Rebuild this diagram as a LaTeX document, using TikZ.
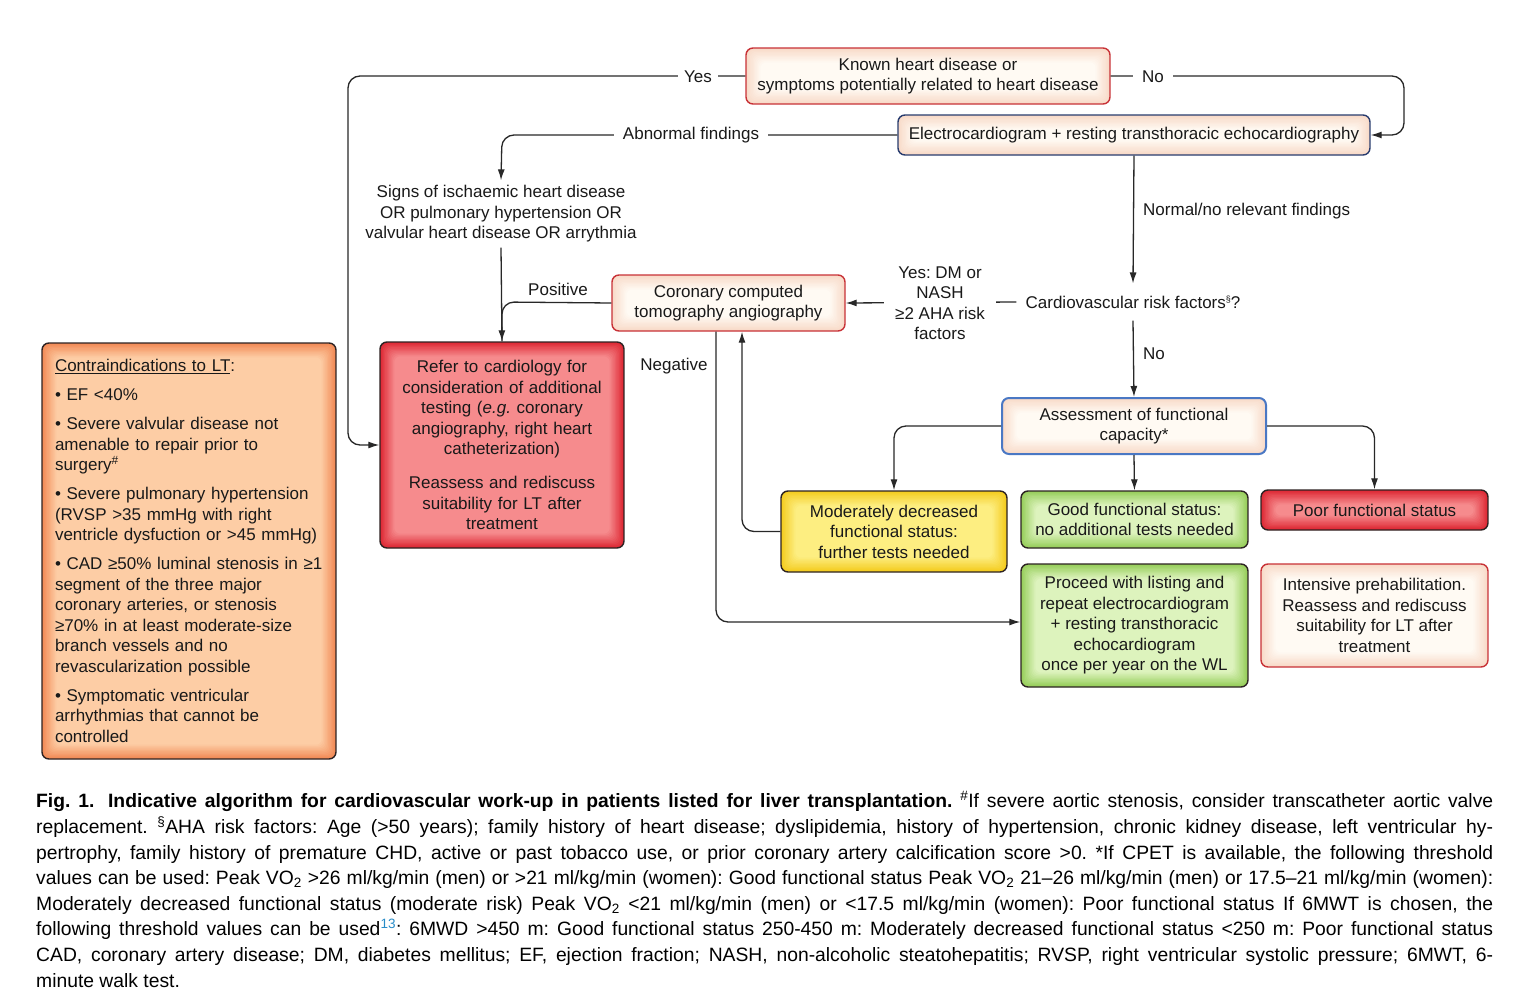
\documentclass[tikz,border=0pt]{standalone}
\usepackage{fontspec}
\setmainfont{Liberation Sans}
\usetikzlibrary{arrows.meta,calc}
\frenchspacing

\definecolor{txt}{RGB}{25,25,25}
\definecolor{ln}{RGB}{40,40,40}
\definecolor{creamin}{RGB}{255,250,243}
\definecolor{creamout}{RGB}{248,218,200}
\definecolor{redin}{RGB}{246,140,142}
\definecolor{redout}{RGB}{222,40,52}
\definecolor{orin}{RGB}{253,206,166}
\definecolor{orout}{RGB}{242,138,86}
\definecolor{yelin}{RGB}{253,238,130}
\definecolor{yelout}{RGB}{244,204,30}
\definecolor{grin}{RGB}{222,243,190}
\definecolor{grout}{RGB}{150,206,90}
\definecolor{redbd}{RGB}{200,50,55}
\definecolor{navybd}{RGB}{40,60,110}
\definecolor{bluebd}{RGB}{74,120,196}
\definecolor{darkbd}{RGB}{45,35,35}
\definecolor{refblue}{RGB}{40,140,200}

\tikzset{
  glow/.style n args={2}{path picture={
    \foreach \k in {0,...,11}{
      \pgfmathtruncatemacro\pc{100-\k*9}
      \fill[#1!\pc!#2, rounded corners=6pt]
        ($(path picture bounding box.north west)+(\k*1.3,\k*1.3)$) rectangle
        ($(path picture bounding box.south east)-(\k*1.3,\k*1.3)$);
    }}},
  box/.style={rounded corners=7pt, line width=1.4pt, align=center, inner sep=3pt, text=txt},
  creambox/.style={box, draw=redbd, glow={creamout}{creamin}},
  navybox/.style={box, draw=navybd, glow={creamout}{creamin}},
  bluebox/.style={box, draw=bluebd, line width=2pt, glow={creamout}{creamin}},
  redbox/.style={box, draw=darkbd, glow={redout}{redin}},
  orbox/.style={box, draw=darkbd, glow={orout}{orin}},
  yelbox/.style={box, draw=darkbd, glow={yelout}{yelin}},
  grbox/.style={box, draw=darkbd, glow={grout}{grin}},
  plain/.style={align=center, text=txt, inner sep=3pt},
  conn/.style={draw=ln, line width=1.3pt, rounded corners=12pt, -{Latex[length=11pt,width=7pt]}},
  line/.style={draw=ln, line width=1.3pt, rounded corners=12pt},
  lbl/.style={fill=white, text=txt, inner xsep=7pt, inner ysep=2pt},
}

\begin{document}
\begin{tikzpicture}[x=1pt,y=-1pt, font=\fontsize{17}{20.5}\selectfont]
\useasboundingbox (0,0) rectangle (1535,1001);
\fill[white] (0,0) rectangle (1535,1001);

% boxes
\node[creambox, minimum width=364pt, minimum height=56pt] (known) at (928,76)
  {Known heart disease or\\symptoms potentially related to heart disease};
\node[navybox, minimum width=472pt, minimum height=40pt] (ecg) at (1134,135)
  {Electrocardiogram + resting transthoracic echocardiography};
\node[plain, inner ysep=5pt] (signs) at (501,214)
  {Signs of ischaemic heart disease\\OR pulmonary hypertension OR\\valvular heart disease OR arrythmia};
\node[creambox, minimum width=233pt, minimum height=56pt] (ct) at (728.5,303)
  {Coronary computed\\tomography angiography};
\node[redbox, text width=230pt, inner xsep=7pt, minimum height=206pt] (refer) at (502,445)
  {Refer to cardiology for\\consideration of additional\\testing (\textit{e.g.} coronary\\angiography, right heart\\catheterization)\\[13.5pt]Reassess and rediscuss\\suitability for LT after\\treatment};
\node[orbox, align=left, text width=274pt, inner xsep=10pt, minimum height=416pt] (contra) at (189,551)
  {\hspace*{3pt}\underline{Contraindications to LT}:\\[8.5pt]
   \hspace*{3pt}\textbullet\ EF <40\%\\[8.5pt]
   \hspace*{3pt}\textbullet\ Severe valvular disease not\\\hspace*{3pt}amenable to repair prior to\\\hspace*{3pt}surgery\textsuperscript{\#}\\[8.5pt]
   \hspace*{3pt}\textbullet\ Severe pulmonary hypertension\\\hspace*{3pt}(RVSP >35 mmHg with right\\\hspace*{3pt}ventricle dysfuction or >45 mmHg)\\[8.5pt]
   \hspace*{3pt}\textbullet\ CAD ≥50\% luminal stenosis in ≥1\\\hspace*{3pt}segment of the three major\\\hspace*{3pt}coronary arteries, or stenosis\\\hspace*{3pt}≥70\% in at least moderate-size\\\hspace*{3pt}branch vessels and no\\\hspace*{3pt}revascularization possible\\[8.5pt]
   \hspace*{3pt}\textbullet\ Symptomatic ventricular\\\hspace*{3pt}arrhythmias that cannot be\\\hspace*{3pt}controlled};
\node[plain, inner xsep=9pt, inner ysep=12pt] (cardio) at (1133,302)
  {Cardiovascular risk factors\raisebox{6pt}{\fontsize{9}{9}\selectfont §}?};
\node[bluebox, minimum width=264pt, minimum height=56pt] (assess) at (1134,426)
  {Assessment of functional\\capacity*};
\node[yelbox, minimum width=226pt, minimum height=81pt] (moder) at (894,531.5)
  {Moderately decreased\\functional status:\\further tests needed};
\node[grbox, minimum width=227pt, minimum height=57pt] (good) at (1134.5,519.5)
  {Good functional status:\\no additional tests needed};
\node[redbox, minimum width=227pt, minimum height=40pt] (poor) at (1374.5,510)
  {Poor functional status};
\node[grbox, minimum width=227pt, minimum height=123pt] (proceed) at (1134.5,625.5)
  {Proceed with listing and\\repeat electrocardiogram\\+ resting transthoracic\\echocardiogram\\once per year on the WL};
\node[creambox, minimum width=227pt, minimum height=103pt] (prehab) at (1374.5,615.5)
  {Intensive prehabilitation.\\Reassess and rediscuss\\suitability for LT after\\treatment};

% corner coordinates
\coordinate (cyes) at (348,76);
\coordinate (cno) at (1404,76);
\coordinate (cab) at (502,135);
\coordinate (cpos) at (502,302);
\coordinate (cneg) at (716,622);
\coordinate (cmod) at (742,531.5);
\coordinate (cal) at (894,426);
\coordinate (car) at (1374.5,426);

% connectors
\draw[conn] (known.west) -- (cyes) -- (cyes |- refer.west) -- (refer.west);
\draw[conn] (known.east) -- (cno) -- (cno |- ecg.east) -- (ecg.east);
\draw[conn] (ecg.west) -- (cab) -- (signs.north);
\draw[conn] (signs.south) -- (refer.north);
\draw[line] (ct.west) -- (cpos) -- (refer.north);
\draw[conn] (ecg.south) -- (cardio.north);
\draw[conn] (cardio.west) -- (ct.east);
\draw[conn] (cardio.south) -- (assess.north);
\draw[conn] (ct.south -| cneg) -- (cneg) -- (proceed.west |- cneg);
\draw[conn] (moder.west) -- (cmod) -- (ct.south -| cmod);
\draw[conn] (assess.west) -- (cal) -- (moder.north);
\draw[conn] (assess.south) -- (good.north);
\draw[conn] (assess.east) -- (car) -- (poor.north);

% labels
\node[lbl, inner xsep=6pt] (lyes) at (698,77) {Yes};
\node[lbl, inner xsep=9pt] (lno) at (1153,77) {No};
\node[lbl, inner xsep=9pt] (lab) at (691,135) {Abnormal findings};
\node[lbl, align=center, inner xsep=11pt, inner ysep=0pt] (ldm) at (940,303) {Yes: DM or\\NASH\\≥2 AHA risk\\factors};
\node[plain, anchor=west] (lnorm) at (1140,211) {Normal/no relevant findings};
\node[plain, anchor=west] (lno2) at (1140,354) {No};
\node[plain] (lpos) at (558,289) {Positive};
\node[plain] (lneg) at (674,366) {Negative};

% caption
\node[anchor=north west, text width=1457pt, align=justify, inner sep=0pt, text=black,
      font=\fontsize{19.3}{25.6}\selectfont] (cap) at (36,791)
{\textbf{Fig. 1.\hspace{0.3em} Indicative algorithm for cardiovascular work-up in patients listed for liver transplantation.} \textsuperscript{\#}If severe aortic stenosis, consider transcatheter aortic valve\linebreak
replacement. \textsuperscript{§}AHA risk factors: Age (>50 years); family history of heart disease; dyslipidemia, history of hypertension, chronic kidney disease, left ventricular hy-\linebreak
pertrophy, family history of premature CHD, active or past tobacco use, or prior coronary artery calcification score >0. *If CPET is available, the following threshold\linebreak
values can be used: Peak VO\textsubscript{2} >26 ml/kg/min (men) or >21 ml/kg/min (women): Good functional status Peak VO\textsubscript{2} 21–26 ml/kg/min (men) or 17.5–21 ml/kg/min (women):\linebreak
Moderately decreased functional status (moderate risk) Peak VO\textsubscript{2} <21 ml/kg/min (men) or <17.5 ml/kg/min (women): Poor functional status If 6MWT is chosen, the\linebreak
following threshold values can be used\textsuperscript{\color{refblue}13}: 6MWD >450 m: Good functional status 250-450 m: Moderately decreased functional status <250 m: Poor functional status\linebreak
CAD, coronary artery disease; DM, diabetes mellitus; EF, ejection fraction; NASH, non-alcoholic steatohepatitis; RVSP, right ventricular systolic pressure; 6MWT, 6-\linebreak
minute walk test.};
\end{tikzpicture}
\end{document}
